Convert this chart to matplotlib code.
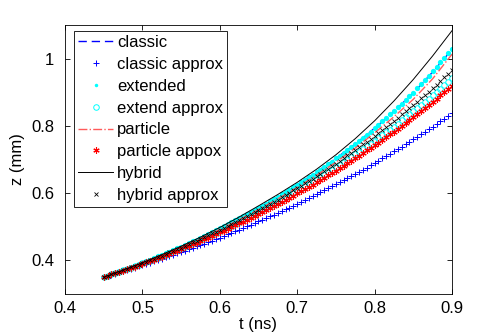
"""
Penetration depth z(t): exact models versus their approximations.

Recreates a MATLAB-style comparison figure and saves it as out.png.
"""

import matplotlib

matplotlib.use("Agg")

import matplotlib.pyplot as plt
import numpy as np
from matplotlib.ticker import FixedLocator, FuncFormatter


# ---------------------------------------------------------------------
# Data
# ---------------------------------------------------------------------

# time grids in ns: dense grid for marker series, coarse grid for lines
T_START = 0.45
T_END = 0.9
t_dense = np.linspace(T_START, T_END, 91)
t_coarse = np.linspace(T_START, T_END, 19)

classic = [
    0.350, 0.371, 0.393, 0.416, 0.441, 0.467, 0.495, 0.525, 0.556, 0.589,
    0.625, 0.663, 0.703, 0.746, 0.793, 0.843, 0.898, 0.960, 1.027,
]

particle = [
    0.350, 0.371, 0.392, 0.415, 0.439, 0.465, 0.492, 0.521, 0.551, 0.583,
    0.617, 0.653, 0.692, 0.734, 0.779, 0.827, 0.879, 0.940, 1.013,
]

hybrid = [
    0.350, 0.371, 0.393, 0.417, 0.442, 0.469, 0.498, 0.529, 0.562, 0.596,
    0.632, 0.671, 0.714, 0.762, 0.815, 0.874, 0.938, 1.008, 1.083,
]

classic_approx = [
    0.350, 0.353, 0.357, 0.360, 0.364, 0.367, 0.371, 0.375, 0.378, 0.382,
    0.386, 0.389, 0.393, 0.397, 0.401, 0.405, 0.409, 0.413, 0.417, 0.421,
    0.425, 0.429, 0.433, 0.437, 0.442, 0.446, 0.450, 0.455, 0.459, 0.464,
    0.468, 0.473, 0.477, 0.482, 0.487, 0.491, 0.496, 0.501, 0.506, 0.511,
    0.516, 0.521, 0.526, 0.531, 0.536, 0.541, 0.547, 0.552, 0.557, 0.563,
    0.568, 0.574, 0.579, 0.585, 0.591, 0.596, 0.602, 0.608, 0.614, 0.620,
    0.626, 0.632, 0.638, 0.644, 0.651, 0.657, 0.663, 0.670, 0.676, 0.683,
    0.690, 0.696, 0.703, 0.710, 0.717, 0.724, 0.731, 0.738, 0.745, 0.753,
    0.760, 0.767, 0.775, 0.782, 0.790, 0.798, 0.805, 0.813, 0.821, 0.829,
    0.837,
]

extended = [
    0.350, 0.354, 0.358, 0.362, 0.367, 0.371, 0.375, 0.380, 0.384, 0.388,
    0.393, 0.398, 0.402, 0.407, 0.412, 0.416, 0.421, 0.426, 0.431, 0.436,
    0.441, 0.446, 0.451, 0.457, 0.462, 0.467, 0.473, 0.478, 0.484, 0.490,
    0.495, 0.501, 0.507, 0.513, 0.519, 0.525, 0.531, 0.537, 0.543, 0.550,
    0.556, 0.562, 0.569, 0.576, 0.583, 0.589, 0.596, 0.603, 0.610, 0.617,
    0.625, 0.632, 0.640, 0.647, 0.655, 0.663, 0.670, 0.678, 0.686, 0.694,
    0.703, 0.711, 0.720, 0.729, 0.737, 0.746, 0.755, 0.765, 0.774, 0.783,
    0.793, 0.803, 0.813, 0.823, 0.834, 0.844, 0.855, 0.866, 0.877, 0.888,
    0.899, 0.912, 0.924, 0.937, 0.949, 0.962, 0.976, 0.989, 1.002, 1.016,
    1.030,
]

extend_approx = [
    0.350, 0.354, 0.358, 0.362, 0.366, 0.370, 0.374, 0.378, 0.382, 0.386,
    0.391, 0.395, 0.399, 0.404, 0.408, 0.413, 0.417, 0.422, 0.427, 0.431,
    0.436, 0.441, 0.446, 0.451, 0.456, 0.461, 0.466, 0.471, 0.476, 0.481,
    0.487, 0.492, 0.498, 0.503, 0.509, 0.514, 0.520, 0.526, 0.531, 0.537,
    0.543, 0.549, 0.555, 0.561, 0.568, 0.574, 0.580, 0.587, 0.593, 0.600,
    0.606, 0.613, 0.620, 0.627, 0.634, 0.641, 0.648, 0.655, 0.662, 0.669,
    0.677, 0.684, 0.692, 0.699, 0.707, 0.715, 0.723, 0.731, 0.739, 0.747,
    0.755, 0.764, 0.772, 0.781, 0.789, 0.798, 0.807, 0.816, 0.825, 0.834,
    0.843, 0.852, 0.862, 0.871, 0.881, 0.891, 0.901, 0.911, 0.921, 0.931,
    0.941,
]

particle_approx = [
    0.350, 0.354, 0.358, 0.361, 0.365, 0.369, 0.373, 0.377, 0.381, 0.386,
    0.390, 0.394, 0.398, 0.402, 0.407, 0.411, 0.416, 0.420, 0.425, 0.429,
    0.434, 0.439, 0.443, 0.448, 0.453, 0.458, 0.463, 0.468, 0.473, 0.478,
    0.483, 0.488, 0.494, 0.499, 0.504, 0.510, 0.515, 0.521, 0.526, 0.532,
    0.538, 0.544, 0.550, 0.555, 0.561, 0.568, 0.574, 0.580, 0.586, 0.592,
    0.599, 0.605, 0.612, 0.618, 0.625, 0.632, 0.639, 0.646, 0.653, 0.660,
    0.667, 0.674, 0.681, 0.689, 0.696, 0.703, 0.711, 0.719, 0.727, 0.734,
    0.742, 0.750, 0.758, 0.767, 0.775, 0.783, 0.792, 0.800, 0.809, 0.818,
    0.826, 0.835, 0.844, 0.854, 0.863, 0.872, 0.881, 0.891, 0.901, 0.910,
    0.920,
]

hybrid_approx = [
    0.350, 0.354, 0.358, 0.362, 0.366, 0.370, 0.374, 0.379, 0.383, 0.387,
    0.392, 0.396, 0.401, 0.405, 0.410, 0.414, 0.419, 0.424, 0.429, 0.434,
    0.438, 0.443, 0.448, 0.454, 0.459, 0.464, 0.469, 0.474, 0.480, 0.485,
    0.491, 0.496, 0.502, 0.508, 0.513, 0.519, 0.525, 0.531, 0.537, 0.543,
    0.549, 0.556, 0.562, 0.568, 0.575, 0.581, 0.588, 0.594, 0.601, 0.608,
    0.615, 0.622, 0.629, 0.636, 0.643, 0.651, 0.658, 0.665, 0.673, 0.681,
    0.688, 0.696, 0.704, 0.712, 0.720, 0.728, 0.736, 0.745, 0.753, 0.762,
    0.770, 0.779, 0.788, 0.797, 0.806, 0.815, 0.824, 0.834, 0.843, 0.853,
    0.862, 0.872, 0.882, 0.892, 0.902, 0.912, 0.923, 0.933, 0.944, 0.954,
    0.965,
]

x_ticks = [0.4, 0.5, 0.6, 0.7, 0.8, 0.9]
y_ticks = [0.4, 0.6, 0.8, 1.0]

BLUE = "#0000ff"
CYAN = "#00ffff"
RED = "#ff0000"
PINK = "#ff5a5a"
BLACK = "#000000"


# ---------------------------------------------------------------------
# Plot
# ---------------------------------------------------------------------

def create_chart() -> None:
    """Draw all eight series in MATLAB style and save out.png."""

    plt.rcParams["font.family"] = ["Liberation Sans", "DejaVu Sans"]
    plt.rcParams["font.size"] = 12

    fig = plt.figure(figsize=(4.98, 3.35), dpi=100)
    ax = fig.add_axes([0.1305, 0.1224, 0.7771, 0.803])

    ax.plot(t_coarse, classic, color=BLUE, ls="--", dashes=(6, 3.5), lw=1.0,
            label="classic")
    ax.plot(t_dense, classic_approx, color=BLUE, ls="none", marker="+",
            ms=5, mew=0.7, label="classic approx")
    ax.plot(t_dense, extended, color=CYAN, ls="none", marker="o", ms=3.8,
            mec="none", label="extended")
    ax.plot(t_dense, extend_approx, color=CYAN, ls="none", marker="o",
            ms=4, mew=0.7, mfc="none", label="extend approx")
    ax.plot(t_coarse, particle, color=PINK, ls="-.", lw=1.0,
            label="particle")
    ax.plot(t_dense, particle_approx, color=RED, ls="none", marker=(6, 2, 0),
            ms=4.5, mew=0.8, label="particle appox")
    ax.plot(t_coarse, hybrid, color=BLACK, ls="-", lw=0.7, label="hybrid")
    ax.plot(t_dense, hybrid_approx, color=BLACK, ls="none", marker="x",
            ms=3.5, mew=0.6, label="hybrid approx")

    ax.set_xlim(0.4, 0.9)
    ax.set_ylim(0.3, 1.1)
    ax.xaxis.set_major_locator(FixedLocator(x_ticks))
    ax.yaxis.set_major_locator(FixedLocator(y_ticks))
    ax.yaxis.set_major_formatter(FuncFormatter(lambda v, _: f"{v:g}"))

    ax.tick_params(direction="in", length=3.5, width=0.6,
                   top=True, right=True)
    ax.tick_params(axis="x", pad=5)
    ax.tick_params(axis="y", pad=8)
    for spine in ax.spines.values():
        spine.set_linewidth(0.6)

    ax.set_xlabel("t (ns)", labelpad=1)
    ax.set_ylabel("z (mm)", labelpad=4)

    legend = ax.legend(
        loc="upper left",
        bbox_to_anchor=(0.023, 0.978),
        borderaxespad=0,
        fancybox=False,
        framealpha=1,
        edgecolor="black",
        fontsize=12,
        handlelength=2.1,
        handletextpad=0.25,
        labelspacing=0.41,
        borderpad=0.25,
        numpoints=1,
    )
    legend.get_frame().set_linewidth(0.6)
    # the dot marker of "extended" is drawn small in the legend box
    legend.legend_handles[2].set_markersize(2.5)

    fig.savefig("out.png", dpi=100)
    plt.close(fig)


def main() -> None:
    create_chart()


if __name__ == "__main__":
    main()
